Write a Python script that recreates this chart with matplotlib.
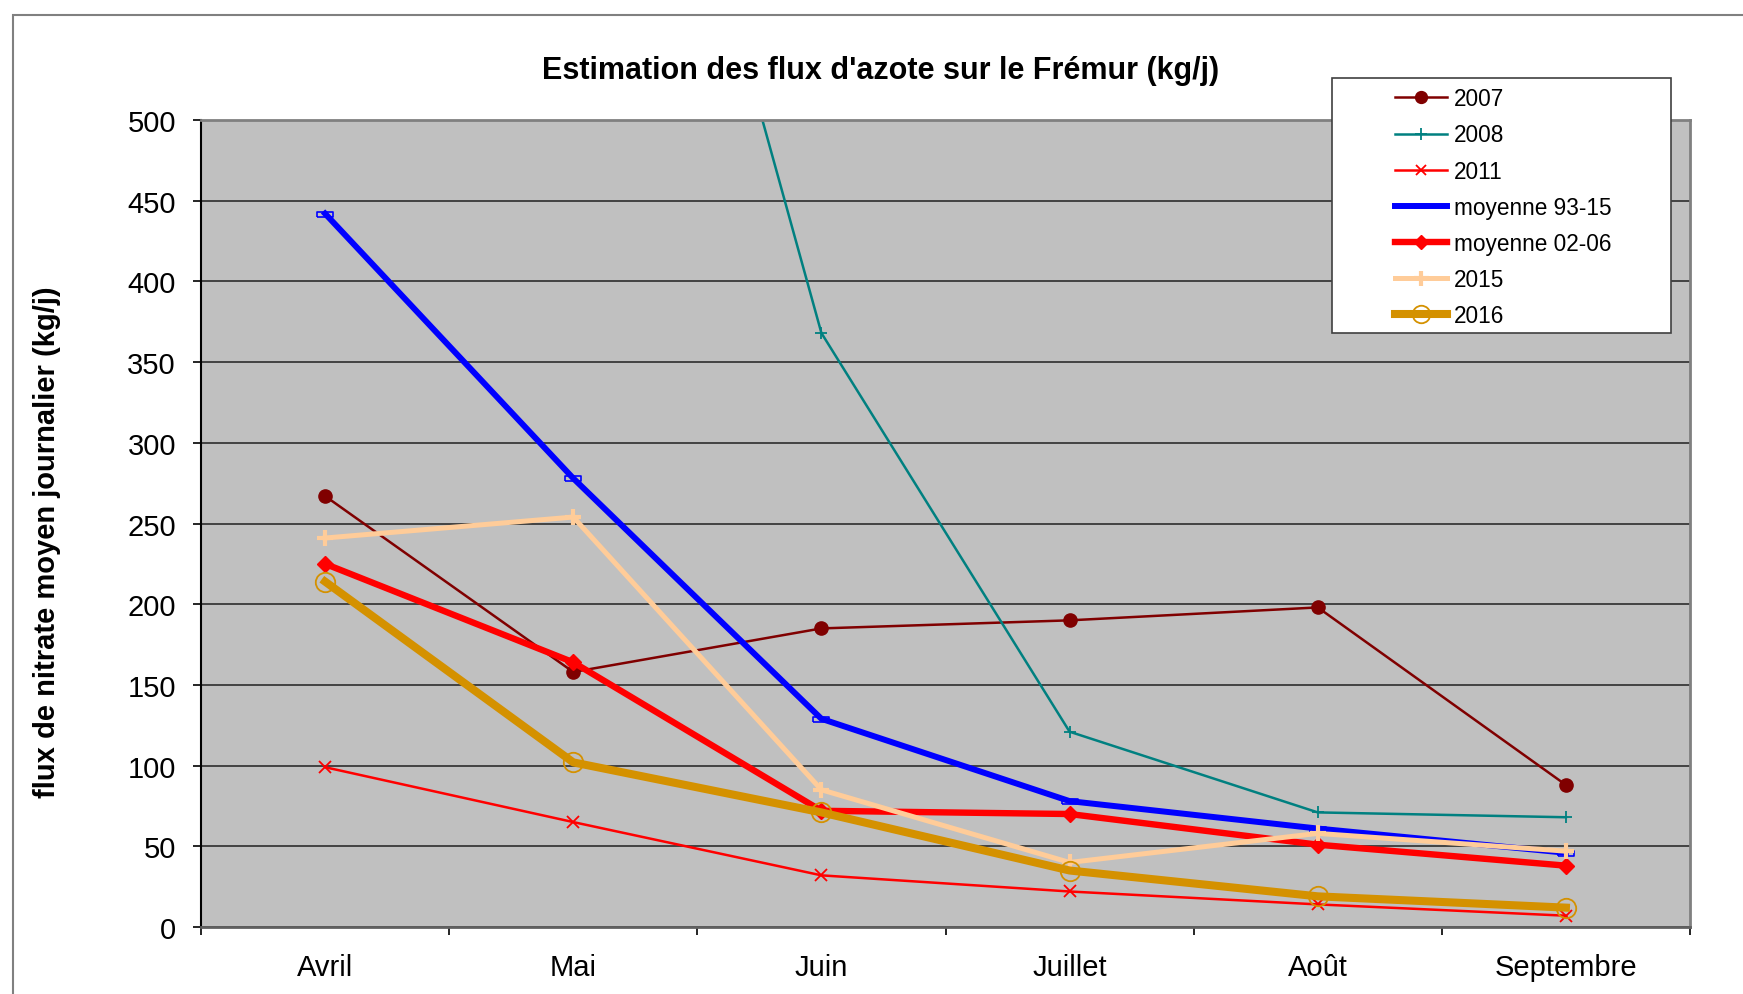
import numpy as np
import matplotlib.pyplot as plt
from matplotlib.patches import Rectangle

plt.rcParams['font.family'] = ['Liberation Sans', 'DejaVu Sans']

mois = ['Avril', 'Mai', 'Juin', 'Juillet', 'Août', 'Septembre']

flux_2007 = [267, 158, 185, 190, 198, 88]
flux_2008 = [1050, 923, 368, 121, 71, 68]
flux_2011 = [99, 65, 32, 22, 14, 7]
moy_93_15 = [442, 278, 129, 78, 61, 46]
moy_02_06 = [225, 164, 72, 70, 51, 38]
flux_2015 = [241, 254, 85, 40, 58, 47]
flux_2016 = [214, 102, 71, 35, 19, 12]

W, H = 1743, 995
fig = plt.figure(figsize=(W / 100, H / 100), dpi=100)

# cadre gris autour du graphique
fig.patches.append(Rectangle((13 / W, -0.1), 1.1, 1 - 16 / H + 0.1,
                             transform=fig.transFigure, fill=False,
                             edgecolor='#808080', linewidth=1.5))

ax = fig.add_axes([201 / W, (H - 928) / H, (1690 - 201) / W, (928 - 121) / H])
ax.set_facecolor('#C0C0C0')

x = np.arange(len(mois))
rect = [(-1, -0.3), (1, -0.3), (1, 0.3), (-1, 0.3), (-1, -0.3)]

ax.plot(x, flux_2007, color='#800000', lw=1.8, marker='o', ms=9.5, label='2007')
ax.plot(x, flux_2008, color='#008080', lw=1.8, marker='+', ms=9, mew=1.3, label='2008')
ax.plot(x, flux_2011, color='#FF0000', lw=1.8, marker='x', ms=8.5, mew=1.3, label='2011')
ax.plot(x, moy_93_15, color='#0000FF', lw=4.3, marker=rect, ms=12, mfc='none',
        mec='#0000FF', mew=1.2, label='moyenne 93-15')
ax.plot(x, moy_02_06, color='#FF0000', lw=4.6, marker='D', ms=8, label='moyenne 02-06')
ax.plot(x, flux_2015, color='#FFCC99', lw=3.6, marker='+', ms=12, mew=3, label='2015')
ax.plot(x, flux_2016, color='#D49100', lw=5.8, marker='o', ms=14, mfc='none',
        mec='#D49100', mew=1.3, label='2016')

ax.set_xlim(-0.5, 5.5)
ax.set_ylim(0, 500)
ax.set_yticks(np.arange(0, 501, 50))
ax.yaxis.grid(True, color='#383838', lw=1.3)
ax.set_axisbelow(True)

ax.set_xticks(np.arange(-0.5, 5.6, 1))
ax.set_xticklabels([])
ax.set_xticks(x, minor=True)
ax.set_xticklabels(mois, minor=True)
ax.tick_params(axis='x', which='major', direction='out', length=6, width=1.2, color='black')
ax.tick_params(axis='x', which='minor', length=0, pad=18.5, labelsize=21)
ax.tick_params(axis='y', direction='out', length=6, width=1.2, pad=12, labelsize=21)

for s in ['top', 'right']:
    ax.spines[s].set_color('#808080')
    ax.spines[s].set_linewidth(2)
ax.spines['left'].set_color('black')
ax.spines['left'].set_linewidth(1.5)
ax.spines['bottom'].set_color('#606060')
ax.spines['bottom'].set_linewidth(2)

fig.text(881 / W, 1 - 71 / H, "Estimation des flux d'azote sur le Frémur (kg/j)",
         ha='center', va='center', fontsize=22, fontweight='bold')
fig.text(47 / W, 1 - 542 / H, 'flux de nitrate moyen journalier (kg/j)',
         ha='center', va='center', rotation=90, fontsize=21, fontweight='bold')

# boite de legende
fig.patches.append(Rectangle((1332 / W, 1 - 334 / H), (1671 - 1332) / W, (334 - 79) / H,
                             transform=fig.transFigure, facecolor='white',
                             edgecolor='#404040', linewidth=1.2, zorder=5))
leg = fig.legend(loc='upper left', bbox_to_anchor=(1384 / W, 1 - 77 / H),
                 frameon=False, fontsize=16.3, borderpad=0, handlelength=2.3,
                 handletextpad=0.3, labelspacing=0.58, markerscale=0.9)
leg.set_zorder(6)

plt.savefig('out.png', dpi=100)
